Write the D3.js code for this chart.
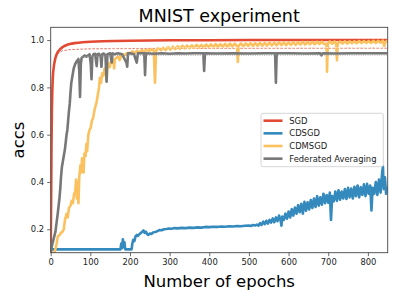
<!DOCTYPE html>
<html><head><meta charset="utf-8">
<script src="https://cdn.jsdelivr.net/npm/d3@7"></script>
<style>body{margin:0;background:#fff}svg{display:block;font-family:"DejaVu Sans",sans-serif}</style>
</head><body><svg id="c" width="399" height="298"></svg>
<script>
const title = "MNIST experiment";
const xLabel = "Number of epochs";
const yLabel = "accs";
const seriesNames = ["SGD", "CDSGD", "CDMSGD", "Federated Averaging"];
const seriesColors = ["#E24A33", "#348ABD", "#FBC15E", "#777777"];
const xTicks = [0, 100, 200, 300, 400, 500, 600, 700, 800];
const yTicks = [0.2, 0.4, 0.6, 0.8, 1.0];

const sgdEpochs = [0,1,2,3,4,5,6,8,10,12,15,18,22,26,30,35,40,50,60,70,80,100,130,160,200,250,300,400,500,600,849];
const sgdAcc = [0.1,0.3,0.55,0.7,0.78,0.83,0.86,0.89,0.91,0.925,0.94,0.95,0.958,0.965,0.97,0.975,0.979,0.984,0.987,0.989,0.991,0.993,0.995,0.996,0.997,0.998,0.999,0.9995,1.0,1.0,1.0];

const sgdTestEpochs = [6,8,12,20,30,50,100,300,849];
const sgdTestAcc = [0.86,0.9,0.93,0.945,0.955,0.96,0.963,0.965,0.966];

const cdsgdEpochs = [0,176,178,180,182,184,186,188,204,206,208,211,214,217,220,224,228,231,234,237,240,243,246,250,254,258,262,266,270,275,280,286,292,298,305,312,320,330,340,350,360,370,380,390,400,410,420,430,440,450,460,470,480,490,500,505,510,515,520,
524,528,532,536,540,544,548,552,556,560,564,568,572,576,580,582,584,588,592,596,600,604,608,612,616,620,624,628,632,636,640,644,648,652,656,660,664,668,672,676,680,684,688,692,696,700,704,707,710,714,718,722,726,730,734,738,742,746,750,754,758,762,766,770,774,778,782,786,790,794,798,802,806,809,812,816,820,824,828,832,836,838,840,843,846,849];
const cdsgdAcc = [0.115,0.115,0.14,0.12,0.158,0.125,0.145,0.115,0.115,0.14,0.155,0.15,0.17,0.176,0.172,0.18,0.185,0.19,0.195,0.185,0.19,0.18,0.176,0.182,0.18,0.186,0.188,0.19,0.193,0.197,0.196,0.2,0.201,0.203,0.202,0.205,0.204,0.206,0.205,0.207,0.206,0.208,0.207,0.21,0.209,0.211,0.21,0.212,0.211,0.213,0.212,0.214,0.213,0.215,0.216,0.214,0.218,0.216,0.22,
0.215,0.226,0.218,0.232,0.222,0.236,0.224,0.24,0.228,0.246,0.23,0.25,0.234,0.258,0.236,0.215,0.254,0.24,0.266,0.245,0.275,0.25,0.285,0.258,0.292,0.266,0.302,0.272,0.308,0.266,0.316,0.278,0.314,0.284,0.324,0.29,0.33,0.294,0.34,0.3,0.335,0.304,0.35,0.31,0.345,0.312,0.355,0.24,0.34,0.318,0.36,0.32,0.365,0.325,0.36,0.33,0.37,0.328,0.375,0.335,0.372,0.33,0.38,0.34,0.385,0.335,0.378,0.345,0.39,0.34,0.392,0.35,0.385,0.28,0.375,0.35,0.4,0.345,0.41,0.355,0.44,0.465,0.37,0.42,0.35,0.38];

const cdmsgdEpochs = [0,5,10,14,18,22,26,30,33,36,40,43,46,50,53,56,59,62,64,66,68,70,72,75,77,79,81,83,85,88,90,92,95,98,101,104,107,110,113,116,119,122,124,127,130,133,136,139,141,143,146,149,152,155,158,160,162,166,170,174,178,182,186,190,195,
200,206,212,218,224,230,236,242,248,254,260,263,266,272,278,284,290,296,302,308,314,320,326,332,338,344,350,356,362,368,374,380,386,392,398,404,410,416,422,428,434,440,446,452,458,464,470,472,474,480,486,492,498,504,510,516,522,528,534,540,546,552,558,564,570,576,582,588,594,600,606,612,618,624,630,636,642,648,654,660,666,672,678,684,690,696,697,699,704,710,716,720,722,724,730,736,742,748,754,760,766,772,778,784,790,796,802,808,814,820,826,832,838,841,844,849];
const cdmsgdAcc = [0.1,0.1,0.105,0.13,0.17,0.175,0.185,0.19,0.2,0.24,0.265,0.25,0.29,0.3,0.32,0.31,0.35,0.36,0.41,0.33,0.4,0.31,0.42,0.47,0.44,0.5,0.49,0.44,0.52,0.51,0.56,0.53,0.6,0.62,0.63,0.66,0.67,0.7,0.72,0.74,0.77,0.8,0.84,0.82,0.86,0.85,0.88,0.87,0.83,0.89,0.9,0.885,0.91,0.905,0.915,0.88,0.92,0.925,0.93,0.915,0.935,0.94,0.935,0.942,0.945,
0.944,0.952,0.945,0.955,0.948,0.958,0.95,0.96,0.953,0.962,0.955,0.82,0.958,0.966,0.957,0.968,0.958,0.97,0.96,0.972,0.962,0.974,0.963,0.976,0.965,0.977,0.966,0.978,0.967,0.98,0.968,0.98,0.969,0.981,0.97,0.982,0.97,0.983,0.971,0.983,0.972,0.984,0.972,0.985,0.973,0.985,0.974,0.908,0.975,0.986,0.974,0.986,0.975,0.987,0.976,0.987,0.976,0.988,0.977,0.988,0.977,0.989,0.978,0.989,0.978,0.99,0.979,0.99,0.979,0.99,0.98,0.991,0.98,0.991,0.981,0.992,0.981,0.992,0.982,0.992,0.982,0.993,0.983,0.993,0.983,0.984,0.866,0.985,0.994,0.984,0.994,0.985,0.915,0.986,0.994,0.985,0.995,0.985,0.995,0.986,0.995,0.986,0.996,0.987,0.996,0.987,0.996,0.988,0.997,0.988,0.997,0.989,0.998,0.975,0.99,0.998];

const cdmsgdTestEpochs = [150,849];
const cdmsgdTestAcc = [0.967,0.969];

const fedEpochs = [0,3,6,9,12,15,18,20,22,24,26,28,30,32,34,36,38,40,42,44,46,48,50,52,54,56,58,60,62,64,66,68,70,72,74,76,78,82,86,90,94,98,101,103,105,108,112,116,118,122,126,128,130,134,138,141,143,150,154,156,160,170,180,191,193,195,200,210,217,220,236,238,240,260,280,300,320,340,360,385,387,389,420,460,500,540,566,568,570,600,640,680,683,686,720,760,800,849];
const fedAcc = [0.1,0.13,0.15,0.17,0.19,0.23,0.27,0.3,0.33,0.37,0.42,0.46,0.48,0.5,0.52,0.54,0.57,0.6,0.62,0.66,0.7,0.73,0.78,0.82,0.84,0.86,0.88,0.89,0.9,0.905,0.912,0.915,0.92,0.87,0.76,0.9,0.925,0.93,0.935,0.93,0.935,0.94,0.9,0.835,0.93,0.94,0.942,0.89,0.94,0.942,0.93,0.887,0.94,0.943,0.935,0.824,0.94,0.944,0.905,0.944,0.94,0.944,0.94,0.905,0.887,0.944,0.944,0.94,0.905,0.944,0.944,0.852,0.944,0.942,0.944,0.942,0.944,0.943,0.944,0.944,0.869,0.944,0.943,0.944,0.943,0.944,0.944,0.82,0.944,0.944,0.943,0.944,0.935,0.944,0.943,0.944,0.944,0.944];

const fedTestEpochs = [80,200,849];
const fedTestAcc = [0.93,0.936,0.937];

const svg = d3.select("#c");
const L = 50.7, R = 387.7, T = 27.3, B = 252.7;
const x = d3.scaleLinear().domain([0, 850]).range([L, R]);
const y = d3.scaleLinear().domain([0.101, 1.054]).range([B, T]);

svg.append("defs").append("clipPath").attr("id", "clip")
  .append("rect").attr("x", L).attr("y", T).attr("width", R - L).attr("height", B - T);

const plot = svg.append("g").attr("clip-path", "url(#clip)");
const line = d3.line().x(d => x(d[0])).y(d => y(d[1]));
const zip = (a, b) => a.map((v, i) => [v, b[i]]);

function drawLine(ex, ac, color, width, dash, op) {
  plot.append("path").datum(zip(ex, ac)).attr("d", line)
    .attr("fill", "none").attr("stroke", color).attr("stroke-width", width)
    .attr("stroke-linejoin", "round").attr("stroke-dasharray", dash || null)
    .attr("opacity", op == null ? 1 : op);
}

drawLine(sgdEpochs, sgdAcc, seriesColors[0], 2.6);
drawLine(sgdTestEpochs, sgdTestAcc, seriesColors[0], 1, "2.5,1.5", 0.8);
drawLine(cdsgdEpochs, cdsgdAcc, seriesColors[1], 2.6);
drawLine(cdmsgdEpochs, cdmsgdAcc, seriesColors[2], 2.6);
drawLine(cdmsgdTestEpochs, cdmsgdTestAcc, "#fff5e2", 1, "1.5,1.5");
drawLine(fedEpochs, fedAcc, seriesColors[3], 2.6);
drawLine(fedTestEpochs, fedTestAcc, "#999999", 1, "1,1.3");

// axes
const xAxis = d3.axisBottom(x).tickValues(xTicks).tickSize(3.5).tickPadding(3).tickFormat(d3.format("d"));
const yAxis = d3.axisLeft(y).tickValues(yTicks).tickSize(3.5).tickPadding(3).tickFormat(d3.format(".1f"));
const gx = svg.append("g").attr("transform", `translate(0,${B})`).call(xAxis);
const gy = svg.append("g").attr("transform", `translate(${L},0)`).call(yAxis);
[gx, gy].forEach(g => {
  g.select(".domain").remove();
  g.selectAll(".tick line").attr("stroke", "#444").attr("stroke-width", 0.8);
  g.selectAll(".tick text").attr("font-size", 8.4).attr("fill", "#222").attr("font-family", "DejaVu Sans");
});

svg.append("rect").attr("x", L).attr("y", T).attr("width", R - L).attr("height", B - T)
  .attr("fill", "none").attr("stroke", "#444").attr("stroke-width", 0.9);

svg.append("text").attr("x", (L + R) / 2).attr("y", 21.7).attr("text-anchor", "middle")
  .attr("font-size", 17.5).attr("fill", "#000").text(title);
svg.append("text").attr("x", (L + R) / 2).attr("y", 287).attr("text-anchor", "middle")
  .attr("font-size", 16.5).attr("fill", "#000").text(xLabel);
svg.append("text").attr("transform", `translate(24,${(T + B) / 2}) rotate(-90)`).attr("text-anchor", "middle")
  .attr("font-size", 16.5).attr("fill", "#000").text(yLabel);

// legend
const lg = svg.append("g");
lg.append("rect").attr("x", 261).attr("y", 113.3).attr("width", 122.3).attr("height", 53.4)
  .attr("rx", 2).attr("fill", "#fff").attr("fill-opacity", 0.8).attr("stroke", "#cccccc").attr("stroke-width", 0.8);
seriesNames.forEach((n, i) => {
  const yy = 120.7 + i * 12.65;
  lg.append("line").attr("x1", 263.5).attr("x2", 282.5).attr("y1", yy).attr("y2", yy)
    .attr("stroke", seriesColors[i]).attr("stroke-width", 2.6);
  lg.append("text").attr("x", 289.3).attr("y", yy + 3).attr("font-size", 8.4).attr("fill", "#222").text(n);
});
</script></body></html>
